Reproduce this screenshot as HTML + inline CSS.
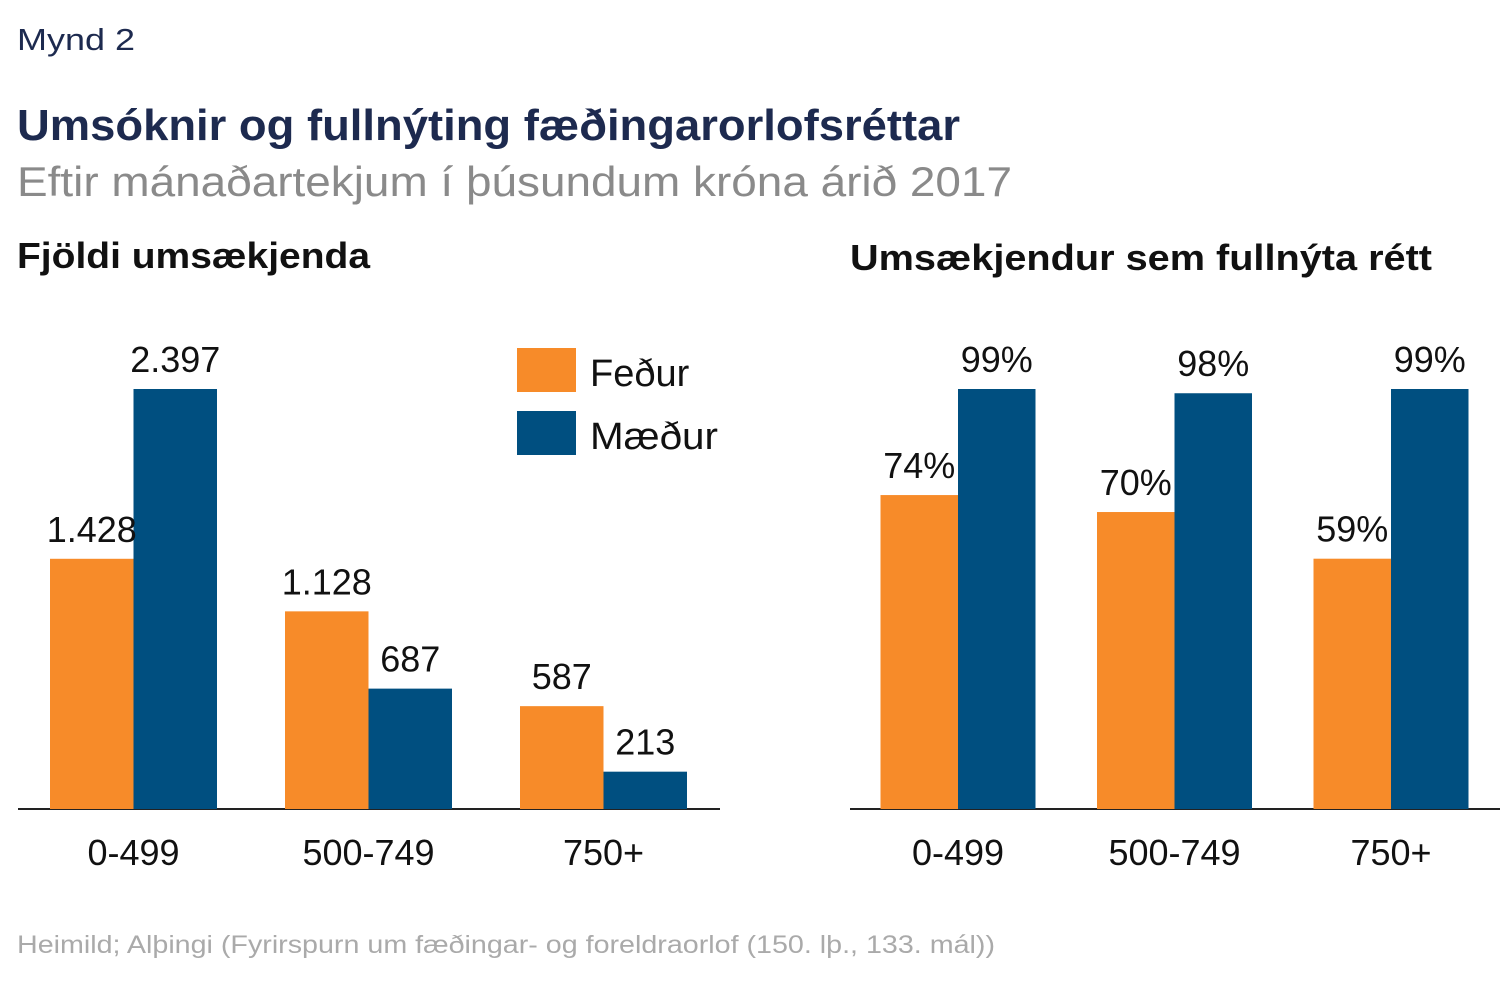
<!DOCTYPE html>
<html><head><meta charset="utf-8"><style>
body{margin:0;background:#fff;}
svg{display:block;font-family:"Liberation Sans",sans-serif;}
</style></head><body>
<svg id="c" width="1512" height="981">
<text x="17" y="50" font-size="31" fill="#1d2a4f" textLength="118" lengthAdjust="spacingAndGlyphs">Mynd 2</text>
<text x="17" y="140" font-size="44" font-weight="bold" fill="#1d2a4f" textLength="943" lengthAdjust="spacingAndGlyphs">Umsóknir og fullnýting fæðingarorlofsréttar</text>
<text x="17" y="196" font-size="42" fill="#8a8a8a" textLength="995" lengthAdjust="spacingAndGlyphs">Eftir mánaðartekjum í þúsundum króna árið 2017</text>
<text x="17" y="268" font-size="36" font-weight="bold" fill="#111" textLength="353" lengthAdjust="spacingAndGlyphs">Fjöldi umsækjenda</text>
<text x="850" y="270" font-size="36" font-weight="bold" fill="#111" textLength="582" lengthAdjust="spacingAndGlyphs">Umsækjendur sem fullnýta rétt</text>
<g>
<rect x="517" y="348" width="59" height="44" fill="#f78b29"/>
<text x="590" y="386" font-size="38" fill="#111">Feður</text>
<rect x="517" y="411" width="59" height="44" fill="#004f80"/>
<text x="590" y="449" font-size="38" fill="#111" textLength="128" lengthAdjust="spacingAndGlyphs">Mæður</text>
</g>
<text x="17" y="953" font-size="25" fill="#aaaaaa" textLength="978" lengthAdjust="spacingAndGlyphs">Heimild; Alþingi (Fyrirspurn um fæðingar- og foreldraorlof (150. lþ., 133. mál))</text>
<g id="plots"></g>
</svg>
<script>
const categories = ["0-499", "500-749", "750+"];
const countFathers = [1428, 1128, 587];
const countMothers = [2397, 687, 213];
const countLabelsF = ["1.428", "1.128", "587"];
const countLabelsM = ["2.397", "687", "213"];
const pctFathers = [74, 70, 59];
const pctMothers = [99, 98, 99];

const NS = "http://www.w3.org/2000/svg";
const g = document.getElementById("plots");
const BASE = 809;
function el(tag, attrs){const e=document.createElementNS(NS,tag);for(const k in attrs)e.setAttribute(k,attrs[k]);g.appendChild(e);return e;}

function panel(x0, x1, firstCenter, step, barW, scale, fVals, mVals, fLab, mLab, prefix){
  const axis = el("line",{x1:x0,x2:x1,y1:BASE,y2:BASE,stroke:"#222","stroke-width":2});
  
  
  categories.forEach((c,i)=>{
    const cx = firstCenter + i*step;
    const hf = fVals[i]*scale, hm = mVals[i]*scale;
    const bf = el("rect",{x:cx-barW,y:BASE-hf,width:barW,height:hf,fill:"#f78b29"});
    
    
    const bm = el("rect",{x:cx,y:BASE-hm,width:barW,height:hm,fill:"#004f80"});
    
    
    const tf = el("text",{x:cx-barW/2,y:BASE-hf-17,"font-size":36,"text-anchor":"middle",fill:"#111"});
    tf.textContent = fLab[i];
    
    
    const tm = el("text",{x:cx+barW/2,y:BASE-hm-17,"font-size":36,"text-anchor":"middle",fill:"#111"});
    tm.textContent = mLab[i];
    
    
    const tc = el("text",{x:cx,y:865,"font-size":36,"text-anchor":"middle",fill:"#111"});
    tc.textContent = c;
    
    
  });
}
panel(18, 720, 133.5, 235, 83.5, 420/2397, countFathers, countMothers, countLabelsF, countLabelsM, "count");
panel(850, 1500, 958, 216.5, 77.5, 420/99, pctFathers, pctMothers, pctFathers.map(v=>v+"%"), pctMothers.map(v=>v+"%"), "pct");
</script>
</body></html>
